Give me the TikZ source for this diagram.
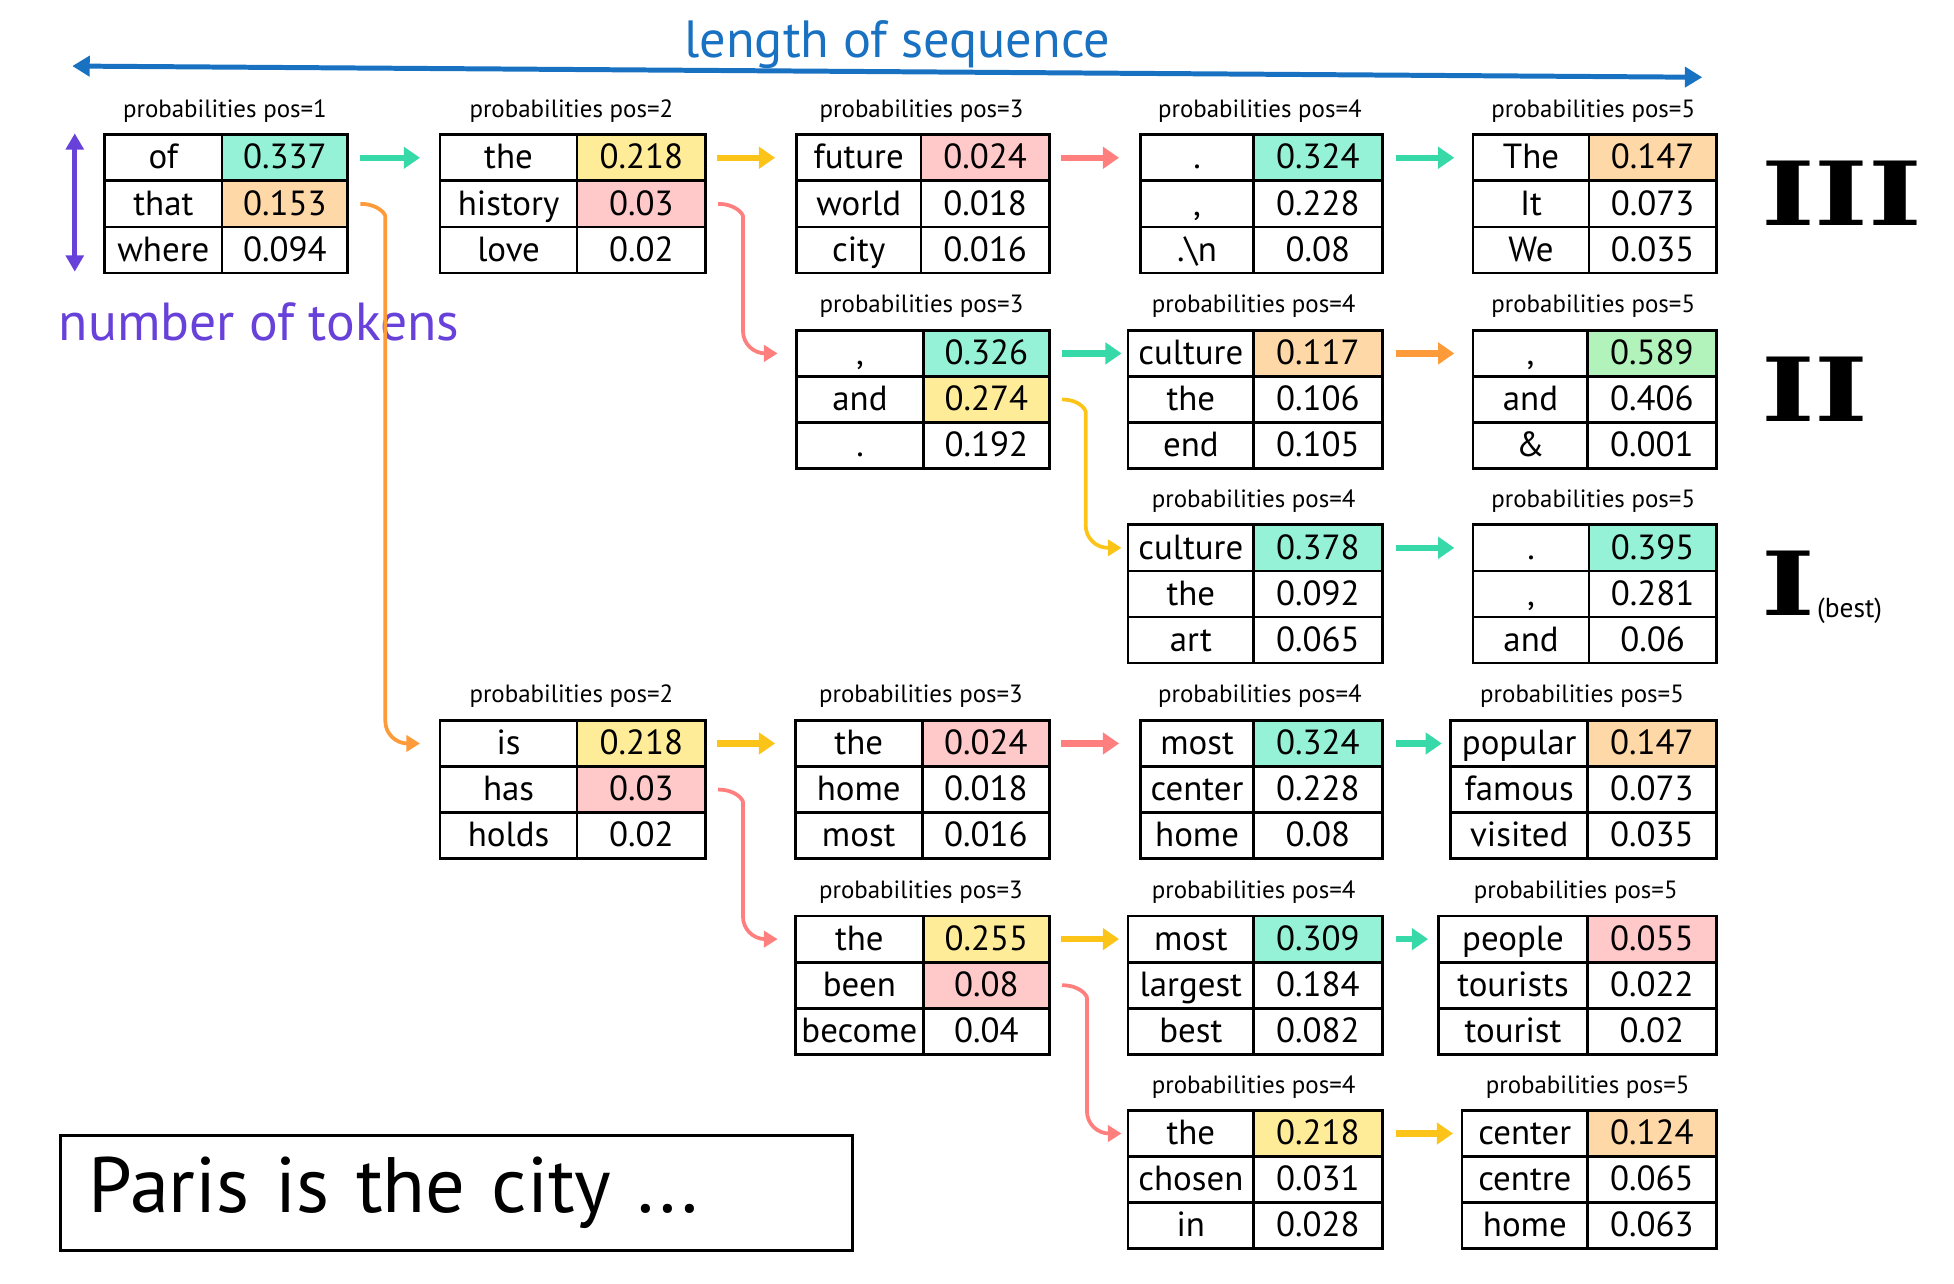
\documentclass[tikz,border=0pt]{standalone}
\usepackage{fontspec}
\usepackage{graphicx}
\setmainfont{PT Sans}
\newfontfamily\romanfont{DejaVu Serif}
\usetikzlibrary{arrows.meta}

\definecolor{tealf}{HTML}{96F2D7}
\definecolor{yellowf}{HTML}{FFEC99}
\definecolor{pinkf}{HTML}{FFC9C9}
\definecolor{orangef}{HTML}{FFD8A8}
\definecolor{lgreenf}{HTML}{B2F2BB}
\definecolor{arrgreen}{HTML}{38D9A9}
\definecolor{arryellow}{HTML}{FCC419}
\definecolor{arrred}{HTML}{FF7F7F}
\definecolor{arrorange}{HTML}{FD9A3A}
\definecolor{seqblue}{HTML}{1971C2}
\definecolor{tokpurple}{HTML}{6741D9}

\tikzset{
  cell/.style={draw=black, line width=2.2pt, minimum height=37pt, inner sep=0pt,
    text height=21pt, text depth=3pt,
    anchor=north west, font=\fontsize{28}{30}\selectfont, text=black},
  plab/.style={inner sep=0pt, font=\fontsize{20}{22}\selectfont},
  straightarr/.style={line width=5pt, -{Triangle[length=13pt,width=17pt]}},
  ga/.style={straightarr, draw=arrgreen},
  ya/.style={straightarr, draw=arryellow},
  ra/.style={straightarr, draw=arrred},
  oa/.style={straightarr, draw=arrorange},
  curvearr/.style={line width=3pt, rounded corners=18pt, -{Triangle[length=11pt,width=13pt]}},
  romanlab/.style={inner sep=0pt, anchor=west, font=\romanfont\bfseries\fontsize{71}{71}\selectfont},
}

\newcommand\ptab[6]{%
  \gdef\ptN{#1}\gdef\ptX{#2}\gdef\ptD{#3}\gdef\ptXb{#4}\gdef\ptY{#5}%
  \pgfmathsetmacro\ptLX{(#2+#4)/2}%
  \pgfmathsetmacro\ptLY{#5-18}%
  \node[plab] (#1-lab) at (\ptLX,\ptLY) {probabilities pos=#6};%
}
\newcommand\prow[4]{%
  \pgfmathsetmacro\ptRA{\ptY+(#1-1)*37}%
  \pgfmathsetmacro\ptWL{\ptD-\ptX}%
  \pgfmathsetmacro\ptWR{\ptXb-\ptD}%
  \node[cell, minimum width=\ptWL pt] (\ptN-w#1) at (\ptX,\ptRA) {#2};%
  \node[cell, fill=#4, minimum width=\ptWR pt] (\ptN-v#1) at (\ptD,\ptRA) {#3};%
}

\begin{document}
\begin{tikzpicture}[x=1pt,y=-1pt]
\useasboundingbox (0,0) rectangle (1568,1030);

% axes
\coordinate (seqL) at (58,53);
\coordinate (seqR) at (1366,62);
\draw[seqblue, line width=4pt, {Triangle[length=14pt,width=16pt]}-{Triangle[length=14pt,width=16pt]}] (seqL) -- (seqR);
\node[text=seqblue, font=\fontsize{42}{44}\selectfont, inner sep=0pt] (seqlab) at (720,36) {length of sequence};

\coordinate (tokT) at (60,107);
\coordinate (tokB) at (60,218);
\draw[tokpurple, line width=4pt, {Triangle[length=13pt,width=14pt]}-{Triangle[length=13pt,width=14pt]}] (tokT) -- (tokB);
\node[text=tokpurple, font=\fontsize{43}{45}\selectfont, inner sep=0pt, anchor=west] (toklab) at (47,258) {number of tokens};

% tables
\ptab{p1}{83}{177}{278}{107}{1}
\prow{1}{of}{0.337}{tealf}
\prow{2}{that}{0.153}{orangef}
\prow{3}{where}{0.094}{white}

\ptab{p2a}{352}{462}{565}{107}{2}
\prow{1}{the}{0.218}{yellowf}
\prow{2}{history}{0.03}{pinkf}
\prow{3}{love}{0.02}{white}

\ptab{p3a}{638}{738}{841}{107}{3}
\prow{1}{future}{0.024}{pinkf}
\prow{2}{world}{0.018}{white}
\prow{3}{city}{0.016}{white}

\ptab{p4a}{914}{1005}{1108}{107}{4}
\prow{1}{.}{0.324}{tealf}
\prow{2}{,}{0.228}{white}
\prow{3}{.\textbackslash n}{0.08}{white}

\ptab{p5a}{1181}{1274}{1376}{107}{5}
\prow{1}{The}{0.147}{orangef}
\prow{2}{It}{0.073}{white}
\prow{3}{We}{0.035}{white}

\ptab{p3b}{638}{740}{841}{264}{3}
\prow{1}{,}{0.326}{tealf}
\prow{2}{and}{0.274}{yellowf}
\prow{3}{.}{0.192}{white}

\ptab{p4b}{904}{1005}{1108}{264}{4}
\prow{1}{culture}{0.117}{orangef}
\prow{2}{the}{0.106}{white}
\prow{3}{end}{0.105}{white}

\ptab{p5b}{1181}{1273}{1376}{264}{5}
\prow{1}{,}{0.589}{lgreenf}
\prow{2}{and}{0.406}{white}
\prow{3}{\&}{0.001}{white}

\ptab{p4c}{904}{1005}{1108}{420}{4}
\prow{1}{culture}{0.378}{tealf}
\prow{2}{the}{0.092}{white}
\prow{3}{art}{0.065}{white}

\ptab{p5c}{1181}{1274}{1376}{420}{5}
\prow{1}{.}{0.395}{tealf}
\prow{2}{,}{0.281}{white}
\prow{3}{and}{0.06}{white}

\ptab{p2d}{352}{462}{565}{577}{2}
\prow{1}{is}{0.218}{yellowf}
\prow{2}{has}{0.03}{pinkf}
\prow{3}{holds}{0.02}{white}

\ptab{p3d}{637}{739}{841}{577}{3}
\prow{1}{the}{0.024}{pinkf}
\prow{2}{home}{0.018}{white}
\prow{3}{most}{0.016}{white}

\ptab{p4d}{914}{1005}{1108}{577}{4}
\prow{1}{most}{0.324}{tealf}
\prow{2}{center}{0.228}{white}
\prow{3}{home}{0.08}{white}

\ptab{p5d}{1163}{1273}{1376}{577}{5}
\prow{1}{popular}{0.147}{orangef}
\prow{2}{famous}{0.073}{white}
\prow{3}{visited}{0.035}{white}

\ptab{p3e}{637}{740}{841}{734}{3}
\prow{1}{the}{0.255}{yellowf}
\prow{2}{been}{0.08}{pinkf}
\prow{3}{become}{0.04}{white}

\ptab{p4e}{904}{1005}{1108}{734}{4}
\prow{1}{most}{0.309}{tealf}
\prow{2}{largest}{0.184}{white}
\prow{3}{best}{0.082}{white}

\ptab{p5e}{1153}{1273}{1376}{734}{5}
\prow{1}{people}{0.055}{pinkf}
\prow{2}{tourists}{0.022}{white}
\prow{3}{tourist}{0.02}{white}

\ptab{p4f}{904}{1005}{1108}{890}{4}
\prow{1}{the}{0.218}{yellowf}
\prow{2}{chosen}{0.031}{white}
\prow{3}{in}{0.028}{white}

\ptab{p5f}{1172}{1273}{1376}{890}{5}
\prow{1}{center}{0.124}{orangef}
\prow{2}{centre}{0.065}{white}
\prow{3}{home}{0.063}{white}

% straight arrows
\draw[ga] ([xshift=9pt]p1-v1.east) -- ([xshift=-15pt]p2a-w1.west);
\draw[ya] ([xshift=8pt]p2a-v1.east) -- ([xshift=-16pt]p3a-w1.west);
\draw[ra] ([xshift=8pt]p3a-v1.east) -- ([xshift=-16pt]p4a-w1.west);
\draw[ga] ([xshift=10pt]p4a-v1.east) -- ([xshift=-14pt]p5a-w1.west);
\draw[ga] ([xshift=9pt]p3b-v1.east) -- ([xshift=-4pt]p4b-w1.west);
\draw[oa] ([xshift=10pt]p4b-v1.east) -- ([xshift=-14pt]p5b-w1.west);
\draw[ga] ([xshift=10pt]p4c-v1.east) -- ([xshift=-14pt]p5c-w1.west);
\draw[ya] ([xshift=8pt]p2d-v1.east) -- ([xshift=-15pt]p3d-w1.west);
\draw[ra] ([xshift=8pt]p3d-v1.east) -- ([xshift=-16pt]p4d-w1.west);
\draw[ga] ([xshift=10pt]p4d-v1.east) -- ([xshift=-6pt]p5d-w1.west);
\draw[ya] ([xshift=8pt]p3e-v1.east) -- ([xshift=-6pt]p4e-w1.west);
\draw[ga] ([xshift=10pt]p4e-v1.east) -- ([xshift=-7pt]p5e-w1.west);
\draw[ya] ([xshift=10pt]p4f-v1.east) -- ([xshift=-6pt]p5f-w1.west);

% curved arrows
\draw[curvearr, draw=arrorange] ([xshift=9pt]p1-v2.east) .. controls +(14,0) and +(0,-20) .. ++(20,28) |- ([xshift=-15pt]p2d-w1.west);
\draw[curvearr, draw=arrred] ([xshift=9pt]p2a-v2.east) .. controls +(14,0) and +(0,-20) .. ++(20,28) |- ([xshift=-14pt]p3b-w1.west);
\draw[curvearr, draw=arryellow] ([xshift=9pt]p3b-v2.east) .. controls +(14,0) and +(0,-20) .. ++(19,28) |- ([xshift=-4pt]p4c-w1.west);
\draw[curvearr, draw=arrred] ([xshift=9pt]p2d-v2.east) .. controls +(14,0) and +(0,-20) .. ++(20,28) |- ([xshift=-13pt]p3e-w1.west);
\draw[curvearr, draw=arrred] ([xshift=9pt]p3e-v2.east) .. controls +(14,0) and +(0,-20) .. ++(20,28) |- ([xshift=-4pt]p4f-w1.west);

% beam labels
\node[romanlab] (r3) at (1413,155) {\scalebox{1.3}[1]{III}};
\node[romanlab] (r2) at (1413,312) {\scalebox{1.3}[1]{II}};
\node[romanlab] (r1) at (1413,468) {\scalebox{1.3}[1]{I}};
\node[inner sep=0pt, anchor=west, font=\fontsize{22}{24}\selectfont] (best) at (1458,490) {(best)};

% prompt
\node[draw=black, line width=2.5pt, anchor=north west, minimum height=92pt,
  text width=590pt, inner xsep=23pt, align=left, font=\fontsize{63}{66}\selectfont] (prompt) at (47,910) {Paris is the city ...};
\end{tikzpicture}
\end{document}
